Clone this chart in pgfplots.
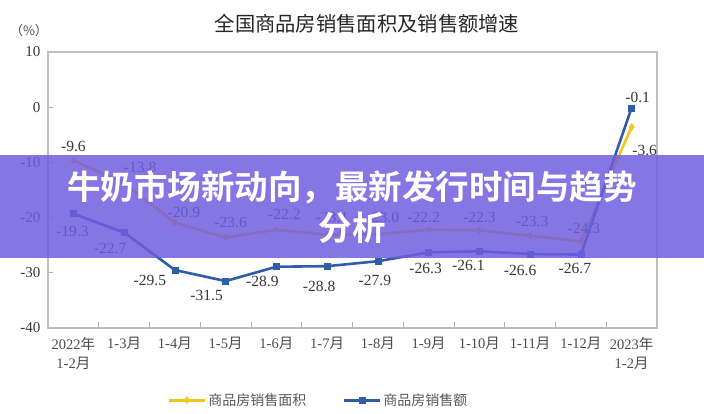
\documentclass[border=0pt]{standalone}
\usepackage{pgfplots}
\pgfplotsset{compat=1.18}
\usepackage{fontspec}
\setmainfont{Liberation Serif}
\newfontfamily\cjk{Noto Sans CJK SC}
\newfontfamily\cjkbold{Noto Sans CJK SC Bold}
\newcommand{\yue}{{\cjk 月}}
\newcommand{\nian}{{\cjk 年}}
\definecolor{myblue}{RGB}{47,94,168}
\definecolor{myyellow}{RGB}{245,196,30}
\definecolor{banner}{RGB}{112,92,224}
\definecolor{txt}{RGB}{55,55,55}
\newcommand{\lab}[4]{\node[font=\fontsize{15.5}{16}\selectfont, text=txt, inner sep=0pt] at (axis cs:#1,#2) [xshift=#3pt, yshift=#4pt] {#2};}
\begin{document}
\begin{tikzpicture}
\fill[white] (0pt,0pt) rectangle (704pt,-414pt);
\path[use as bounding box] (0pt,0pt) rectangle (704pt,-414pt);
\node[font=\cjk\fontsize{20.3}{22}\selectfont, text=black!85] at (367pt,-24pt) {全国商品房销售面积及销售额增速};
\node[font=\cjk\fontsize{13}{14}\selectfont, text=black!70] at (29pt,-31pt) {（\%）};
\begin{axis}[
  at={(48pt,-328pt)}, anchor=south west,
  scale only axis, width=609pt, height=276pt,
  xmin=0.5, xmax=12.5, ymin=-40, ymax=10,
  xtick={1,...,12},
  xticklabels={{2022\nian\\1-2\yue},1-3\yue,1-4\yue,1-5\yue,1-6\yue,1-7\yue,1-8\yue,1-9\yue,1-10\yue,1-11\yue,1-12\yue,{2023\nian\\1-2\yue}},
  minor xtick={1.5,2.5,...,11.5},
  ytick={-40,-30,...,10},
  yticklabels={-40,-30,-20,-10,0,10},
  tick pos=left, tick align=inside,
  major x tick style={draw=none},
  minor tick length=6pt, major tick length=5pt,
  every tick/.style={black!30, line width=1pt},
  axis line style={draw=black!25, line width=1.2pt},
  x tick label style={font=\fontsize{14.5}{19}\selectfont, align=center, text=black!70, anchor=north, yshift=-6pt},
  y tick label style={font=\fontsize{15}{16}\selectfont, text=txt, xshift=-4pt},
  legend style={at={(0.444,-0.261)}, anchor=center, draw=none, fill=none, font=\cjk\fontsize{14}{15}\selectfont, text=black!65, legend columns=2, /tikz/every even column/.append style={column sep=34pt}},
  legend image code/.code={\draw[line width=3pt, mark repeat=2, mark phase=2] plot coordinates {(0pt,0pt) (18pt,0pt) (36pt,0pt)};},
  clip=false,
]
\addplot[myyellow, line width=2.6pt, mark=diamond*, mark size=3.5pt, mark options={line width=0.5pt}] coordinates {
 (1,-9.6) (2,-13.8) (3,-20.9) (4,-23.6) (5,-22.2) (6,-23.1) (7,-23.0) (8,-22.2) (9,-22.3) (10,-23.3) (11,-24.3) (12,-3.6)};
\addlegendentry{商品房销售面积}
\addplot[myblue, line width=2.6pt, mark=square*, mark size=3pt, mark options={line width=0.5pt}] coordinates {
 (1,-19.3) (2,-22.7) (3,-29.5) (4,-31.5) (5,-28.9) (6,-28.8) (7,-27.9) (8,-26.3) (9,-26.1) (10,-26.6) (11,-26.7) (12,-0.1)};
\addlegendentry{商品房销售额}
\lab{1}{-9.6}{0}{14}
\lab{2}{-13.8}{16}{16}
\lab{3}{-20.9}{9}{10}
\lab{4}{-23.6}{5}{15}
\lab{5}{-22.2}{8}{15}
\lab{6}{-23.1}{5}{17}
\lab{7}{-23.0}{5}{17}
\lab{8}{-22.2}{-5}{12}
\lab{9}{-22.3}{0}{13}
\lab{10}{-23.3}{2}{14}
\lab{11}{-24.3}{3}{13}
\lab{12}{-3.6}{13}{-23}
\lab{1}{-19.3}{-1}{-18}
\lab{2}{-22.7}{-14}{-16}
\lab{3}{-29.5}{-25}{-10}
\lab{4}{-31.5}{-19}{-14}
\lab{5}{-28.9}{-14}{-15}
\lab{6}{-28.8}{-8}{-20}
\lab{7}{-27.9}{-3}{-19}
\lab{8}{-26.3}{-3}{-16}
\lab{9}{-26.1}{-11}{-14}
\lab{10}{-26.6}{-10}{-16}
\lab{11}{-26.7}{-6}{-14}
\lab{12}{-0.1}{6}{10}
\end{axis}
\fill[banner, opacity=0.84] (0pt,-155pt) rectangle (704pt,-258pt);
\node[text=white, font=\cjkbold\fontsize{33.5}{41}\selectfont, align=center] at (352pt,-207pt) {牛奶市场新动向，最新发行时间与趋势\\分析};
\end{tikzpicture}
\end{document}
